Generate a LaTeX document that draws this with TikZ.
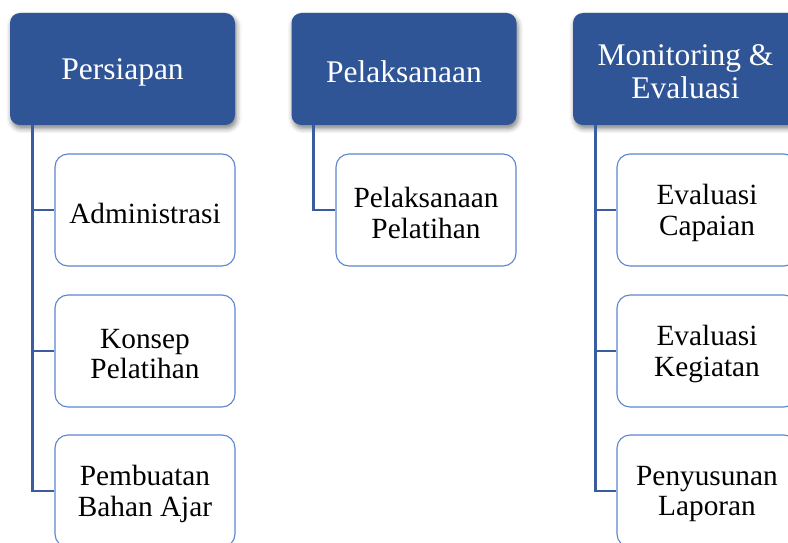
\documentclass[tikz,border=0pt]{standalone}
\usepackage{fontspec}
\setmainfont{Liberation Serif}
\usetikzlibrary{shadows.blur}
\definecolor{hdrblue}{HTML}{2F5597}
\definecolor{lnblue}{HTML}{3A5CA0}
\definecolor{bxblue}{HTML}{5B86CF}
\tikzset{
  header/.style={fill=hdrblue, draw=none, rounded corners=10pt, minimum width=225pt, minimum height=112pt,
    inner sep=0pt,
    blur shadow={shadow xshift=1.5pt, shadow yshift=-3.5pt, shadow blur radius=5pt, shadow opacity=50}},
  headertext/.style={text=white, align=center, inner sep=0pt, yshift=-3pt, font=\fontsize{31.5}{33}\selectfont},
  child/.style={fill=white, draw=bxblue, line width=1.1pt, rounded corners=13pt, minimum width=180pt, minimum height=112pt,
    inner sep=0pt},
  childtext/.style={text=black, align=center, inner sep=0pt, yshift=-3pt, font=\fontsize{29.3}{30.5}\selectfont},
  link/.style={draw=lnblue, line width=2.6pt}
}
\begin{document}
\begin{tikzpicture}[x=1pt,y=1pt]
\useasboundingbox (0,0) rectangle (788,542);
\clip (0,0) rectangle (788,542);
% headers
\node[header, label={[headertext]center:Persiapan}] (H1) at (122.5,473) {};
\node[header, label={[headertext]center:Pelaksanaan}] (H2) at (404,473) {};
\node[header, label={[headertext]center:Monitoring \&\\Evaluasi}] (H3) at (685.5,473) {};
% children col 1
\node[child, label={[childtext]center:Administrasi}] (C11) at (145,332) {};
\node[child, label={[childtext]center:Konsep\\Pelatihan}] (C12) at (145,191) {};
\node[child, label={[childtext]center:Pembuatan\\Bahan Ajar}] (C13) at (145,51) {};
% col 2
\node[child, label={[childtext]center:Pelaksanaan\\Pelatihan}] (C21) at (426,332) {};
% col 3
\node[child, label={[childtext]center:Evaluasi\\Capaian}] (C31) at (707,332) {};
\node[child, label={[childtext]center:Evaluasi\\Kegiatan}] (C32) at (707,191) {};
\node[child, label={[childtext]center:Penyusunan\\Laporan}] (C33) at (707,51) {};
% connectors
\draw[link] ([xshift=22.5pt]H1.south west) |- (C13.west);
\draw[link] ([xshift=22.5pt]H1.south west) |- (C11.west);
\draw[link] ([xshift=22.5pt]H1.south west) |- (C12.west);
\draw[link] ([xshift=22pt]H2.south west) |- (C21.west);
\draw[link] ([xshift=22.5pt]H3.south west) |- (C33.west);
\draw[link] ([xshift=22.5pt]H3.south west) |- (C31.west);
\draw[link] ([xshift=22.5pt]H3.south west) |- (C32.west);
\end{tikzpicture}
\end{document}
